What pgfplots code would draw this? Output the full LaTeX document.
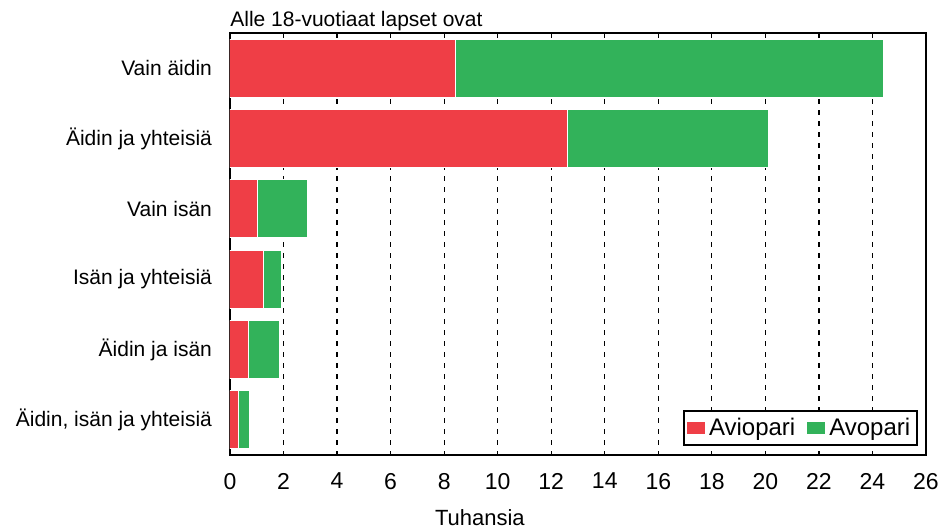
\documentclass[border=0pt]{standalone}
\usepackage{fontspec}
\setmainfont{Liberation Sans}
\usepackage{pgfplots}
\pgfplotsset{compat=1.18}
\definecolor{avio}{RGB}{239,62,70}
\definecolor{avo}{RGB}{50,178,90}
\begin{document}
\begin{tikzpicture}
\useasboundingbox (-115bp,-36.5bp) rectangle (355bp,227.5bp);
\begin{axis}[
  name=ax,
  scale only axis, width=348bp, height=211bp,
  xbar stacked, bar width=29bp,
  xmin=0, xmax=26, ymin=-0.5, ymax=5.5, y dir=reverse,
  xtick={0,2,6,8,10,12,14,16,18,20,24,26},
  extra x ticks={4,22},
  extra x tick style={grid style={black, line width=1.2bp, dash pattern=on 2.5bp off 3bp}},
  xmajorgrids,
  grid style={black, line width=0.6bp, dash pattern=on 2.5bp off 3bp},
  major tick length=0pt,
  axis line style={black, line width=1bp},
  ytick={0,1,2,3,4,5},
  yticklabels={{Vain äidin\hspace{4.5bp}},{Äidin ja yhteisiä},{Vain isän\hspace{4.5bp}},{Isän ja yhteisiä},{Äidin ja isän\hspace{4.5bp}},{Äidin, isän ja yhteisiä}},
  yticklabel style={font=\fontsize{10.5bp}{12bp}\selectfont, xshift=-5.5bp},
  xticklabel style={font=\fontsize{11.5bp}{13bp}\selectfont, yshift=-5.5bp},
  /pgf/number format/assume math mode=true,
  xlabel={Tuhansia},
  xlabel style={at={(axis description cs:0.359,0)}, anchor=base, yshift=-35bp, font=\fontsize{11bp}{13bp}\selectfont},
  legend columns=2,
  legend style={at={(axis description cs:1,0)}, anchor=south east, xshift=-4bp, yshift=4.5bp, draw=black, line width=0.8bp, font=\fontsize{12bp}{14bp}\selectfont, inner sep=1.5bp, /tikz/every even column/.append style={column sep=4bp}},
  legend image code/.code={\path[#1, draw=none] (0bp,-3bp) rectangle (9bp,3bp);},
]
\addplot[fill=avio, draw=white, line width=0.5bp] coordinates {(8.43,0) (12.59,1) (1.04,2) (1.25,3) (0.68,4) (0.33,5)};
\addplot[fill=avo, draw=white, line width=0.5bp] coordinates {(15.98,0) (7.53,1) (1.85,2) (0.66,3) (1.16,4) (0.38,5)};
\legend{Aviopari, Avopari}
\end{axis}
\node[anchor=base west, inner sep=0pt, yshift=3.5bp, font=\fontsize{10.5bp}{12bp}\selectfont] at (ax.north west) {Alle 18-vuotiaat lapset ovat};
\end{tikzpicture}
\end{document}
